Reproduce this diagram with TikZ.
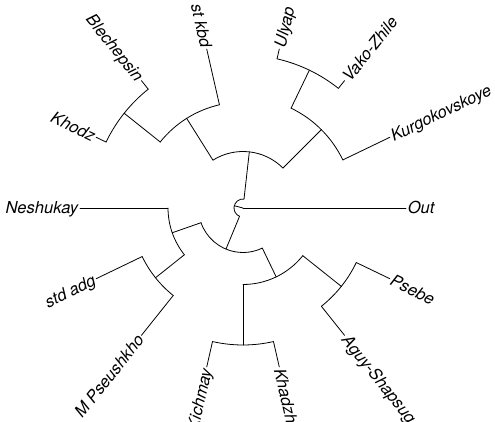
\documentclass[tikz,border=0pt]{standalone}
\usepackage{fontspec}
\setmainfont{TeX Gyre Heros}
\usetikzlibrary{calc}

\begin{document}
\begin{tikzpicture}[x=1pt,y=1pt,line cap=round,line join=round,line width=0.8pt,
    tiplabel/.style={font=\fontsize{16.5}{19}\selectfont\itshape,inner xsep=1.5pt,
      inner ysep=0pt,text height=11.8pt,text depth=0pt}]
  \useasboundingbox (-243,-214) rectangle (252,208);
  \clip (-243,-214) rectangle (252,208);
  \def\Rt{163}
  \def\st{25.7143}
  % tips, right half
  \foreach \n/\k/\t in {out/0/Out,kurg/1/Kurgokovskoye,vako/2/Vako-Zhile,ulyap/3/Ulyap,
      khadzh/11/Khadzh,aguy/12/Aguy-Shapsug,psebe/13/Psebe} {
    \coordinate (\n) at ({\k*\st}:\Rt);
    \node[tiplabel,anchor=west,rotate={\k*\st}] (lab-\n) at (\n) {\t};
  }
  % tips, left half
  \foreach \n/\k/\t in {stkbd/4/st kbd,blech/5/Blechepsin,khodz/6/Khodz,neshu/7/Neshukay,
      stdadg/8/std adg,mpseu/9/M Pseushkho,kichm/10/Kichmay} {
    \coordinate (\n) at ({\k*\st}:\Rt);
    \node[tiplabel,anchor=east,rotate={\k*\st-180}] (lab-\n) at (\n) {\t};
  }
  % inner nodes
  \coordinate (root) at (0,0);
  \foreach \n/\a/\r in {cx/165.536/9,cu/83.571/56.5,cur/45/111,cuv/64.286/153,
      cul/122.143/106,ckb/141.429/152,cl/247.5/44.5,cn/199.286/75,cs/218.571/112,
      cm/295.714/76.5,ck/270/137,cp/321.429/126} {
    \coordinate (\n) at (\a:\r);
  }
  % radial branches
  \foreach \c/\q in {out/root,cx/root,cu/cx,cl/cx,cur/cu,cul/cu,kurg/cur,cuv/cur,
      vako/cuv,ulyap/cuv,stkbd/cul,ckb/cul,blech/ckb,khodz/ckb,cn/cl,cm/cl,
      neshu/cn,cs/cn,stdadg/cs,mpseu/cs,ck/cm,cp/cm,kichm/ck,khadzh/ck,
      aguy/cp,psebe/cp} {
    \draw let \p1=(\c),\p2=(\q),\n1={atan2(\y1,\x1)},\n2={veclen(\x2,\y2)} in
      (\n1:\n2) -- (\c);
  }
  % arcs
  \foreach \v/\a/\b in {cx/cu/cl,cu/cur/cul,cur/kurg/cuv,cuv/vako/ulyap,cul/stkbd/ckb,
      ckb/blech/khodz,cl/cn/cm,cn/neshu/cs,cs/stdadg/mpseu,cm/ck/cp,ck/kichm/khadzh,
      cp/aguy/psebe} {
    \draw let \p1=(\a),\p2=(\b),\p3=(\v),\n1={mod(atan2(\y1,\x1)+360,360)},
      \n2={mod(atan2(\y2,\x2)+360,360)},\n3={veclen(\x3,\y3)} in
      (\n1:\n3) arc[start angle=\n1,end angle=\n2,radius=\n3];
  }
\end{tikzpicture}
\end{document}
